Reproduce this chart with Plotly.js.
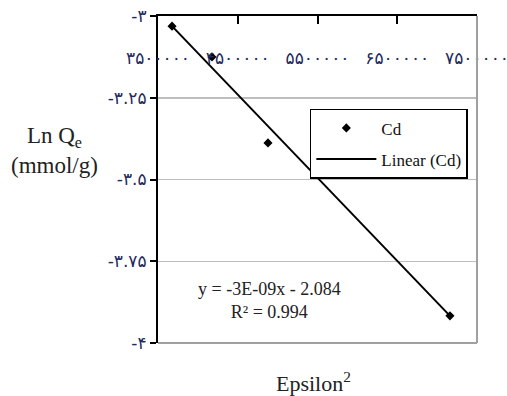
<!DOCTYPE html>
<html>
<head>
<meta charset="utf-8">
<script src="https://cdn.plot.ly/plotly-3.0.1.min.js"></script>
<style>
  body { margin: 0; background: #fff; }
  #chart { width: 507px; height: 396px; }
</style>
</head>
<body>
<div id="chart"></div>
<script>
// Cd points
var cdX = [3676000, 4177000, 4879000, 7161000];
var cdY = [-3.031, -3.125, -3.388, -3.917];

// linear trendline ends (Excel draws it over the data range)
var trendX = [3676000, 7161000];
var trendY = [-3.031, -3.917];

var xTicks = [3500000, 4500000, 5500000, 6500000, 7500000];
var xLabels = ["۳۵۰۰۰۰۰", "۴۵۰۰۰۰۰", "۵۵۰۰۰۰۰", "۶۵۰۰۰۰۰", "۷۵۰۰۰۰۰"];
var yTicks = [-3, -3.25, -3.5, -3.75, -4];
var yLabels = ["-۳", "-۳.۲۵", "-۳.۵", "-۳.۷۵", "-۴"];

var serif = "Liberation Serif, Times New Roman, DejaVu Serif, serif";
var tickFont = {family: "DejaVu Sans, sans-serif", size: 17, color: "#1f2a5e"};

var pts = {
    x: cdX,
    y: cdY,
    name: "Cd",
    mode: "markers",
    type: "scatter",
    legendgroup: "a",
    marker: {symbol: "diamond", size: 7, color: "#000"}
};

var trend = {
    x: trendX,
    y: trendY,
    name: "Linear (Cd)",
    mode: "lines",
    type: "scatter",
    legendgroup: "b",
    line: {color: "#000", width: 2}
};

var layout = {
    width: 507,
    height: 396,
    margin: {l: 158, r: 30, t: 16, b: 53},
    paper_bgcolor: "#fff",
    plot_bgcolor: "#fff",
    font: {family: serif, color: "#111"},
    showlegend: true,
    legend: {
        x: 0.476, y: 0.716, xanchor: "left", yanchor: "top",
        bordercolor: "#000", borderwidth: 1.5,
        font: {family: serif, size: 17, color: "#111"},
        traceorder: "grouped", tracegroupgap: 6,
        itemwidth: 60,
        bgcolor: "#fff"
    },
    xaxis: {
        side: "top",
        range: [3500000, 7500000],
        tickvals: xTicks,
        ticktext: xLabels,
        ticks: "inside",
        ticklen: 8,
        tickwidth: 2,
        tickcolor: "#000",
        ticklabelposition: "inside",
        ticklabelstandoff: 29,
        ticklabeloverflow: "allow",
        tickfont: tickFont,
        showline: true,
        linecolor: "#000",
        linewidth: 2,
        showgrid: false,
        zeroline: false
    },
    yaxis: {
        range: [-4, -3],
        tickvals: yTicks,
        ticktext: yLabels,
        ticks: "outside",
        ticklen: 6,
        tickwidth: 2,
        tickcolor: "#000",
        tickfont: tickFont,
        showline: true,
        linecolor: "#000",
        linewidth: 2,
        showgrid: true,
        gridcolor: "#bdbdbd",
        gridwidth: 1.5,
        zeroline: false
    },
    shapes: [
        {type: "line", xref: "paper", yref: "paper", x0: 1, x1: 1, y0: 0, y1: 1,
         line: {color: "#a0a0a0", width: 2}},
        {type: "line", xref: "paper", yref: "paper", x0: 0, x1: 1, y0: 0, y1: 0,
         line: {color: "#a0a0a0", width: 2}}
    ],
    annotations: [
        {xref: "paper", yref: "paper", x: 0.351, y: 0.131, xanchor: "center", yanchor: "middle",
         showarrow: false,
         text: "y = -3E-09x - 2.084<br>R² = 0.994",
         font: {family: serif, size: 18, color: "#222"}},
        {xref: "paper", yref: "paper", x: -0.323, y: 0.59, xanchor: "center", yanchor: "middle",
         showarrow: false,
         text: "Ln Q<sub>e</sub><br>(mmol/g)",
         font: {family: serif, size: 23, color: "#222"}},
        {xref: "paper", yref: "paper", x: 0.486, y: -0.119, xanchor: "center", yanchor: "middle",
         showarrow: false,
         text: "Epsilon<sup>2</sup>",
         font: {family: serif, size: 22, color: "#222"}}
    ]
};

Plotly.newPlot("chart", [pts, trend], layout, {displayModeBar: false, staticPlot: true});
</script>
</body>
</html>
